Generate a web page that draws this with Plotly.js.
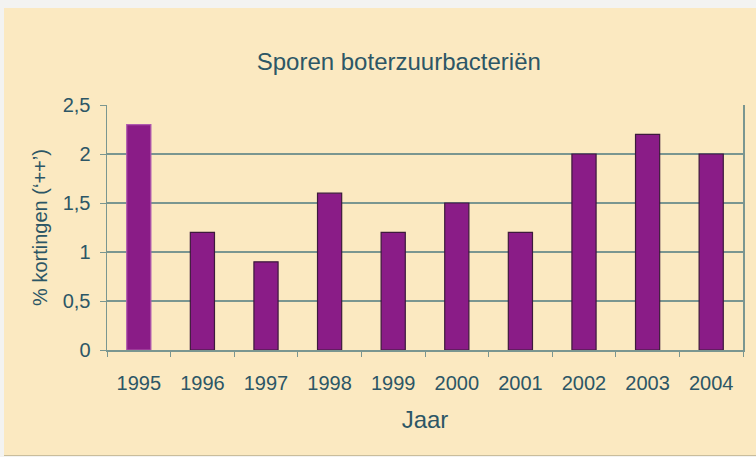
<!DOCTYPE html>
<html>
<head>
<meta charset="utf-8">
<script src="https://cdn.plot.ly/plotly-3.0.1.min.js"></script>
<style>
  html, body { margin: 0; padding: 0; background: #f3f3f1; width: 756px; height: 457px; overflow: hidden; }
  #chart { position: absolute; left: 4px; top: 8px; width: 752px; height: 447px; border-bottom: 1px solid #c9bd9c; }
</style>
</head>
<body>
<div id="chart"></div>
<script>
const years = ["1995", "1996", "1997", "1998", "1999", "2000", "2001", "2002", "2003", "2004"];
const values = [2.3, 1.2, 0.9, 1.6, 1.2, 1.5, 1.2, 2.0, 2.2, 2.0];
const yTickVals = [0, 0.5, 1, 1.5, 2, 2.5];
const yTickText = ["0", "0,5", "1", "1,5", "2", "2,5"];

const textColor = "#2c5666";
const gridColor = "#7a9690";

const trace = {
  type: "bar",
  x: years,
  y: values,
  marker: {
    color: "#8a1c87",
    line: { color: years.map((y, i) => i === 0 ? "#b05aae" : "#3d1a3c"), width: 1.2 }
  },
  hoverinfo: "x+y"
};

const layout = {
  width: 752,
  height: 447,
  paper_bgcolor: "#fbe9c1",
  plot_bgcolor: "#fbe9c1",
  margin: { l: 103, r: 13, t: 97, b: 105 },
  font: { family: "Liberation Sans, Arial, sans-serif", color: textColor, size: 20 },
  title: { text: "Sporen boterzuurbacteriën", x: 0.525, xanchor: "center", y: 0.879, yanchor: "middle",
           font: { size: 24, color: textColor } },
  bargap: 0.62,
  showlegend: false,
  xaxis: {
    type: "category",
    tickson: "boundaries",
    ticks: "outside",
    ticklen: 5,
    tickcolor: gridColor,
    showline: true,
    linecolor: gridColor,
    linewidth: 1.5,
    showgrid: false,
    ticklabelstandoff: 14,
    tickfont: { size: 20, color: textColor },
    title: { text: "Jaar", font: { size: 24, color: textColor }, standoff: 18 }
  },
  yaxis: {
    range: [0, 2.5],
    tickvals: yTickVals,
    ticktext: yTickText,
    ticks: "outside",
    ticklen: 6,
    tickcolor: gridColor,
    showline: true,
    mirror: true,
    linecolor: gridColor,
    linewidth: 1.5,
    showgrid: true,
    gridcolor: gridColor,
    gridwidth: 1.5,
    zeroline: false,
    ticklabelstandoff: 5,
    tickfont: { size: 20, color: textColor },
    title: { text: "% kortingen (‘++’)", font: { size: 20, color: textColor }, standoff: 9 }
  }
};

Plotly.newPlot("chart", [trace], layout, { displayModeBar: false, staticPlot: true });
</script>
</body>
</html>
